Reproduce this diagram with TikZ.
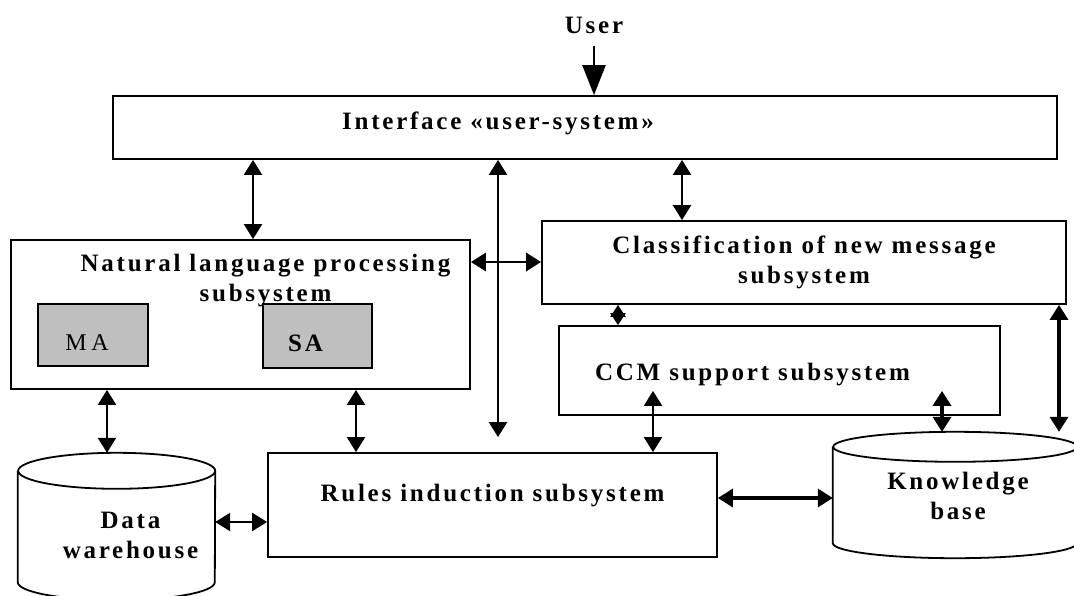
\documentclass[tikz,border=0pt]{standalone}
\usepackage{fontspec}
\setmainfont{Liberation Serif}[LetterSpace=11]
\usetikzlibrary{arrows.meta}

\tikzset{
  box/.style={draw=black, line width=1.8pt, inner sep=0pt},
  gbox/.style={box, fill=black!25},
  store/.style={inner sep=0pt},
  lab/.style={font=\fontsize{25}{30}\selectfont\bfseries, align=center},
  thinlab/.style={font=\fontsize{24}{28}\selectfont\addfontfeature{LetterSpace=20}},
  link/.style={line width=2pt, {Triangle[length=15pt,width=18pt]}-{Triangle[length=15pt,width=18pt]}},
  heavy/.style={link, line width=3.4pt},
  tiny/.style={line width=2pt, {Triangle[length=12pt,width=15pt]}-{Triangle[length=12pt,width=15pt]}},
  into/.style={line width=2.4pt, -{Triangle[length=30pt,width=23pt]}},
}

\begin{document}
\begin{tikzpicture}[x=1pt,y=-1pt]
    \useasboundingbox (0,0) rectangle (1074,595);
    \clip (0,0) rectangle (1074,595);

    \node[lab] (user) at (594,25) {User};
    \node[box, minimum width=944, minimum height=63,
      label={[lab,xshift=-87pt,yshift=4pt]center:{Interface «user-system»}}] (iface) at (585,127.5) {};
    \node[box, minimum width=459, minimum height=149,
      label={[lab,xshift=25pt,yshift=34pt]center:{Natural language processing\\subsystem}}] (nlp) at (240.5,314.5) {};
    \node[gbox, minimum width=110, minimum height=62,
      label={[thinlab,xshift=-6pt,yshift=-8pt]center:MA}] (ma) at (93,335) {};
    \node[gbox, minimum width=109, minimum height=64,
      label={[lab,xshift=-12pt,yshift=-7pt]center:SA}] (sa) at (317.5,336) {};
    \node[box, minimum width=524, minimum height=83,
      label={[lab]center:{Classification of new message\\subsystem}}] (class) at (804,262.5) {};
    \node[box, minimum width=441, minimum height=89,
      label={[lab,xshift=-27pt,yshift=-4pt]center:{CCM support subsystem}}] (ccm) at (779.5,370.5) {};
    \node[box, minimum width=449, minimum height=104,
      label={[lab,yshift=9pt]center:{Rules induction subsystem}}] (rules) at (492.5,505) {};
    \node[store, minimum width=197, minimum height=147,
      label={[lab,xshift=14pt,yshift=-9pt]center:{Data\\warehouse}}] (dw) at (116.5,526.5) {};
    \node[store, minimum width=244, minimum height=126,
      label={[lab,xshift=3pt,yshift=-1pt]center:{Knowledge\\base}}] (kb) at (955,495) {};

    \draw[line width=1.8pt] ([yshift=-18pt]dw.north west) -- ([yshift=18pt]dw.south west)
      arc[start angle=180, end angle=360, x radius=98.5pt, y radius=18pt]
      -- ([yshift=-18pt]dw.north east)
      arc[start angle=0, end angle=360, x radius=98.5pt, y radius=18pt];
    \draw[line width=1.8pt] ([yshift=-15pt]kb.north west) -- ([yshift=15pt]kb.south west)
      arc[start angle=180, end angle=360, x radius=122pt, y radius=15pt]
      -- ([yshift=-15pt]kb.north east)
      arc[start angle=0, end angle=360, x radius=122pt, y radius=15pt];

    \coordinate (c1) at (253,0);
    \coordinate (c2) at (498,0);
    \coordinate (c3) at (682,0);
    \coordinate (c4) at (0,262);
    \coordinate (c5) at (618,0);
    \coordinate (c6) at (653,0);
    \coordinate (c7) at (942,0);
    \coordinate (c8) at (1059,0);
    \coordinate (c9) at (107,0);
    \coordinate (c10) at (356,0);
    \coordinate (c11) at (0,522);
    \coordinate (c12) at (0,498);

    \path[into] (user.south) edge[shorten <=9pt] (iface.north -| user);
    \path[link] (iface.south -| c1) edge (nlp.north -| c1);
    \path[link] (iface.south -| c2) edge[shorten >=15pt] (rules.north -| c2);
    \path[link] (iface.south -| c3) edge (class.north -| c3);
    \path[link] (nlp.east |- c4) edge[line width=2.8pt] (class.west |- c4);
    \path[tiny] (class.south -| c5) edge (ccm.north -| c5);
    \path[link] (ccm.south -| c6) edge[shorten <=-25pt] (rules.north -| c6);
    \path[heavy] (ccm.south -| c7) edge[shorten <=-25pt] (kb.north -| c7);
    \path[heavy] (class.south -| c8) edge (kb.north -| c8);
    \path[link] (nlp.south -| c9) edge (dw.north -| c9);
    \path[link] (nlp.south -| c10) edge (rules.north -| c10);
    \path[link] (dw.east |- c11) edge[line width=2.4pt] (rules.west |- c11);
    \path[heavy] (rules.east |- c12) edge (kb.west |- c12);
\end{tikzpicture}
\end{document}
